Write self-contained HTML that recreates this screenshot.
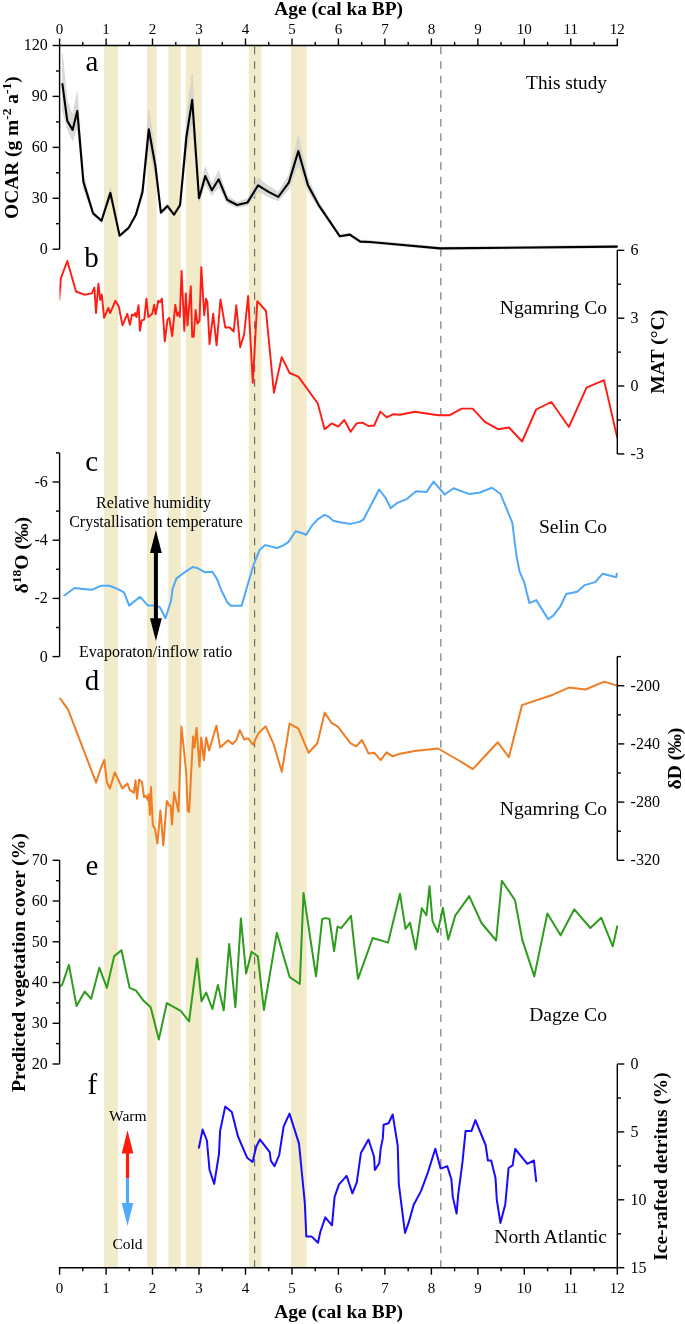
<!DOCTYPE html>
<html><head><meta charset="utf-8"><title>Figure</title>
<style>
html,body{margin:0;padding:0;background:#fff;}
body{width:685px;height:1324px;overflow:hidden;}
svg{display:block;font-family:"Liberation Serif", serif;will-change:transform;}
</style></head>
<body>
<svg width="685" height="1324" viewBox="0 0 685 1324">
<rect x="0" y="0" width="685" height="1324" fill="#fff"/>
<rect x="104.1" y="45.5" width="13.9" height="1222.2" fill="#F1EBCA"/>
<rect x="147" y="45.5" width="9.7" height="1222.2" fill="#F1EBCA"/>
<rect x="168.3" y="45.5" width="12.5" height="1222.2" fill="#F1EBCA"/>
<rect x="185.8" y="45.5" width="15.8" height="1222.2" fill="#F1EBCA"/>
<rect x="248.9" y="45.5" width="12.6" height="1222.2" fill="#F1EBCA"/>
<rect x="290.9" y="45.5" width="15.8" height="1222.2" fill="#F1EBCA"/>
<line x1="254.6" y1="46.8" x2="254.6" y2="1267.7" stroke="#6A6A6A" stroke-width="1.15" stroke-dasharray="7.4 7.045"/>
<line x1="440.8" y1="46.8" x2="440.8" y2="1267.7" stroke="#959595" stroke-width="1.5" stroke-dasharray="7.5 6.945"/>
<polygon points="62.4,53 67.3,101 72.6,115 77.3,92 83.4,173.8 93.1,211.9 101.5,219.3 110.4,187.2 119.6,234.2 128.6,226.4 135.9,213.2 142.5,186 148.8,109.6 155.4,154.5 160.9,211.1 167.5,203.3 174,213.2 180.1,202 186.4,119.3 192.2,73.8 199,193.7 205.3,166.7 211.9,184.1 218.7,170.6 227.1,195.5 237.1,202 247.6,198.8 258.1,178 268.6,186 278.3,192.1 288.8,174.8 298.3,136.2 308,178 318.7,202.1 339.7,234.7 349.8,233.1 360.3,240.1 370,240.5 440.2,246.9 617,245.1 617,247.9 440.2,249.7 370,243.3 360.3,242.9 349.8,235.9 339.7,237.5 318.7,207.7 308,191.6 298.3,163.9 288.8,189.5 278.3,201 268.6,197 258.1,191.6 247.6,205.5 237.1,207.6 227.1,203.3 218.7,186.8 211.9,195.7 205.3,184.2 199,202.1 192.2,122.5 186.4,152.7 180.1,207.6 174,216 167.5,208.5 160.9,213.9 155.4,176.1 148.8,146.3 142.5,197 135.9,216 128.6,229.2 119.6,237 110.4,197.8 101.5,222.1 93.1,214.7 83.4,188.9 77.3,127 72.6,141 67.3,129 62.4,110" fill="#D4D4D0" fill-opacity="0.85" stroke="#BBBBBB" stroke-width="0.7" stroke-dasharray="0.8 1.2"/>
<polyline points="62.4,84.1 67.3,120.9 72.6,129.9 77.3,110.9 83.4,181.9 93.1,213.4 101.5,220.8 110.4,192.9 119.6,235.7 128.6,227.9 135.9,214.7 142.5,191.9 148.8,129.3 155.4,166.1 160.9,212.6 167.5,206.1 174,214.7 180.1,205 186.4,137.2 192.2,99.9 199,198.2 205.3,176.1 211.9,190.3 218.7,179.3 227.1,199.7 237.1,205 247.6,202.4 258.1,185.3 268.6,191.9 278.3,196.9 288.8,182.7 298.3,151.1 308,185.3 318.7,205.1 339.7,236.2 349.8,234.6 360.3,241.6 370,242 440.2,248.4 617,246.6" fill="none" stroke="#000000" stroke-width="2.1" stroke-linejoin="round" stroke-linecap="round"/>
<defs><linearGradient id="fb" gradientUnits="userSpaceOnUse" x1="0" y1="301" x2="0" y2="286"><stop offset="0" stop-color="#FF1C14" stop-opacity="0.25"/><stop offset="1" stop-color="#FF1C14" stop-opacity="1"/></linearGradient></defs>
<line x1="59.7" y1="300.5" x2="60.8" y2="278.4" stroke="url(#fb)" stroke-width="1.9"/>
<polyline points="60.8,278.4 67.3,261 76,291.5 84.4,294.7 91.8,293.4 94.4,287.6 96,313 98.4,283.6 100.2,299.9 101.8,294.7 104.1,317.8 108.3,307.8 110.2,313.1 115.4,300.7 118.8,306.5 122.5,325.4 127.3,313.8 129.9,324.9 132,314.4 133.8,315.7 135.1,313.1 136.4,317 138.6,305.2 139.9,330.9 141.7,320.4 144.3,319.6 146.4,298.6 148.3,317 152.2,313.8 154.3,304.6 155.6,314.4 158.3,300.7 160.1,302 161.9,298.6 164.8,341.4 167.5,319.6 169.3,317.8 172.2,336.2 175.3,304.6 177.2,315.7 178.5,312.5 179.8,317 181.6,271 184.3,330.9 185.8,293.4 187.5,325.5 190.8,286.3 192.2,336.7 193.7,336.7 195.6,309.9 197.4,323.6 199.5,320.9 201.3,267.1 204.2,315.2 206.1,298.6 207.4,302.5 209.5,344.1 213.2,313.8 216.6,345.4 220.5,299.4 225.3,327.5 229.7,327.5 233.7,331.5 236.3,305.2 240.2,347.2 244.2,334.1 248.1,296 252.8,382.7 257.3,301.2 266,311 273.9,392.7 281.7,357.2 289.6,373 298.3,376.6 317.7,403.2 324.6,429.2 331.7,423.4 338.2,426.6 344.3,420 350.6,431.8 356.6,423.4 362.4,422.6 368.4,426 374.2,425.5 380.3,411.6 386.8,417.4 393.4,414.2 400,414.7 414.8,411.7 438.4,415.2 449.8,415.2 461.6,408.6 472.6,408.6 484.9,421.8 498,429.2 509,427.5 522.1,441.5 536.1,409.5 551.4,402 568.9,427 586.5,387.6 604,380.2 617.1,437.1" fill="none" stroke="#FF1C14" stroke-width="1.9" stroke-linejoin="round" stroke-linecap="round"/>
<polyline points="64.4,595.5 74.5,588 83.2,588.9 92,589.8 100.7,585.8 109.5,585.8 117.4,588.9 124,592.4 129.2,605.6 140.1,596.8 148,605.6 156.8,605.6 159.9,607.3 165.5,618.3 171.2,600.3 172.5,589 176.5,578.4 184,572.7 192.7,567 197.1,567.9 205,572.3 212.4,571.7 216.8,578.7 222,591.8 227.3,602.3 230.8,605.8 241.7,605.8 246.6,588.3 253.6,564.7 259.7,549.8 265.3,545.1 277.2,548 283.4,545.4 288.6,541.9 295.6,531.2 301.7,533 306.1,534.7 311.9,525.7 317.7,519.3 324.5,514.9 329.4,517.2 333.2,520.7 341.1,522.5 350.7,523.9 360.1,521.6 363.6,519.3 379.1,489.5 385.8,498.2 390.7,508.2 397.2,502.9 406.2,499.4 409.7,496.5 416.1,491.2 426.4,492.1 433.6,481.6 444.7,494.5 453.5,488.3 468.7,493.9 479.2,492.7 492,487.8 500.4,493.8 506.9,509.4 512.3,522.9 516.5,555.8 519.5,571.3 524.3,582.7 529.4,603.1 536.3,600.1 548.2,619.2 553.3,615.6 560.2,606.7 566.2,594.1 577.3,591.7 584.8,585.1 595.2,582.1 602.7,573.7 616.2,577.3 616.8,573.7" fill="none" stroke="#50A8FA" stroke-width="2.0" stroke-linejoin="round" stroke-linecap="round"/>
<polyline points="60.2,698.5 68.1,709.6 96.1,782.6 101.1,767.4 104.3,759.9 106.9,782.6 109.9,788.5 114.8,772.4 122.4,788.5 127.4,783.5 129.7,789.9 133.8,792.8 135.5,780.3 137,798.7 139.1,779.7 142,782 144,797.2 145.8,795.8 147.8,800.1 148.7,794.3 149.9,814.7 151,787 152.8,825 155.1,829.3 157.4,843.4 160.4,810.4 163.3,845.4 166.8,801 169.1,805.4 170.6,805.4 172,824.4 174.1,792.3 178.5,811.8 181.4,726.6 184.1,751.5 186.2,772.8 187.7,810.7 189.1,812 193.1,736.5 194.5,747.6 196.6,727.7 199.5,766.6 201.2,737.4 203.9,760.1 206.2,737.4 209.1,750.5 216.4,725.7 220.2,747.6 228.1,740.3 232.5,744.1 236.3,740.3 239.8,730.1 244.3,739.6 247.9,738.2 253.1,744.7 258.1,733.6 265.7,726.3 273.6,744.1 281.8,771.8 289.6,723.6 298.4,728.6 308.6,752.8 317.4,743.2 324.7,712.6 331.4,722.8 337.8,726.6 350.4,743.2 356.2,746.4 362,740 368.5,753.4 374.3,752.8 380.7,760.1 386.6,752.3 392.7,756.4 399.1,754 414.6,751.1 438,748.5 459.8,761 472.8,769.1 497.8,742.3 508.9,757.2 522,705.1 552.9,694.7 568.9,687.6 585.6,689.5 604.2,681.6 616.2,685.4" fill="none" stroke="#F07C24" stroke-width="2.0" stroke-linejoin="round" stroke-linecap="round"/>
<polyline points="59.8,986.5 62.2,984.8 68.9,964.9 76.6,1006.1 84.7,991.5 91.2,998.8 99.3,967.7 106.9,987.8 114.2,956.1 121.5,950.2 129.6,987.8 136.1,990.7 143.4,1000.6 150.7,1007.2 158.8,1039.6 166.8,1003.1 180.7,1010.8 189.1,1021.4 197.1,958.6 201.5,1001.3 206.2,992.6 212.4,1009 217.9,984.9 223.7,1010.4 229.2,944 235.4,1007.2 240.9,918.5 246.1,973.5 251.6,951.8 257.8,956.4 263.9,1010 276.8,932.8 289.7,977.2 299.8,984 303.5,892.9 316,976.3 322.2,919 325.8,918.1 329.5,919 334.1,951.2 337.5,926.6 341.2,928.2 351,915.9 358,978.8 372.7,938 388.1,942.6 400,893.8 405.5,928.8 410.1,922.7 415.7,949.6 421.8,908.2 426.4,915.3 429.5,886.2 432.5,921.1 437.7,932.2 442.9,907.8 448.2,939.6 455.2,915.7 469.2,896.1 481.5,923 496.1,940.5 501.9,880.7 515,900.2 522.3,939.9 534.3,976.4 547.4,913.4 560.6,935.3 574.3,909.3 590.4,928 601.2,917.7 612.8,946.4 617.2,926.5" fill="none" stroke="#2E9C1C" stroke-width="2.0" stroke-linejoin="round" stroke-linecap="round"/>
<polyline points="198.9,1147.8 202.6,1129.6 206.9,1140.5 209.5,1169.7 214.2,1183.9 219,1154 220.1,1131 225.2,1106.6 231.8,1112 238,1136.5 247.1,1157.7 252.6,1162 256.2,1146.7 259.9,1139.4 269.7,1152.2 270.8,1160.6 274.5,1166.1 279.2,1155.1 283.6,1126.6 289.5,1113.6 299,1143.6 304.8,1202.8 306.3,1236.4 311.5,1236.4 318,1242.8 320.3,1232 325.3,1217.4 332,1225.3 334.6,1196.9 339,1184.4 346.6,1175.9 352.4,1193.4 356.8,1182.3 360.9,1153.1 368.5,1139.5 374,1156.5 374.9,1169.9 379.3,1163.2 380.7,1148.6 382.8,1138.4 383.6,1124.7 388.6,1123.2 392.7,1114.5 397.7,1145.7 398.8,1183.8 405,1232.8 408.5,1223.2 413.7,1204.8 421,1191.1 428,1172.1 435.3,1148.8 440.6,1168.6 447.3,1166.3 451.4,1179.4 452.8,1196.9 456.6,1213.6 458.1,1195.5 462.5,1161.9 465.6,1130.9 471.5,1130.9 475.4,1120.1 485.6,1145 487.9,1160.5 491.2,1160.5 495.5,1177.9 496.8,1199.9 500.4,1222.9 505.3,1204.2 508.6,1168 512.6,1165.4 515.2,1149 527.3,1163.8 533.9,1160.5 536.2,1181.2" fill="none" stroke="#1A0AFF" stroke-width="2.0" stroke-linejoin="round" stroke-linecap="round"/>
<line x1="58.9" y1="45.5" x2="618" y2="45.5" stroke="#000" stroke-width="1.4" fill="none"/>
<line x1="58.9" y1="1267.7" x2="618" y2="1267.7" stroke="#000" stroke-width="1.4" fill="none"/>
<line x1="59.6" y1="45.5" x2="59.6" y2="38.5" stroke="#000" stroke-width="1.4" fill="none"/>
<line x1="59.6" y1="1267.7" x2="59.6" y2="1274.7" stroke="#000" stroke-width="1.4" fill="none"/>
<line x1="82.8" y1="45.5" x2="82.8" y2="41.9" stroke="#000" stroke-width="1.4" fill="none"/>
<line x1="82.8" y1="1267.7" x2="82.8" y2="1271.3" stroke="#000" stroke-width="1.4" fill="none"/>
<line x1="106.1" y1="45.5" x2="106.1" y2="38.5" stroke="#000" stroke-width="1.4" fill="none"/>
<line x1="106.1" y1="1267.7" x2="106.1" y2="1274.7" stroke="#000" stroke-width="1.4" fill="none"/>
<line x1="129.3" y1="45.5" x2="129.3" y2="41.9" stroke="#000" stroke-width="1.4" fill="none"/>
<line x1="129.3" y1="1267.7" x2="129.3" y2="1271.3" stroke="#000" stroke-width="1.4" fill="none"/>
<line x1="152.5" y1="45.5" x2="152.5" y2="38.5" stroke="#000" stroke-width="1.4" fill="none"/>
<line x1="152.5" y1="1267.7" x2="152.5" y2="1274.7" stroke="#000" stroke-width="1.4" fill="none"/>
<line x1="175.8" y1="45.5" x2="175.8" y2="41.9" stroke="#000" stroke-width="1.4" fill="none"/>
<line x1="175.8" y1="1267.7" x2="175.8" y2="1271.3" stroke="#000" stroke-width="1.4" fill="none"/>
<line x1="199" y1="45.5" x2="199" y2="38.5" stroke="#000" stroke-width="1.4" fill="none"/>
<line x1="199" y1="1267.7" x2="199" y2="1274.7" stroke="#000" stroke-width="1.4" fill="none"/>
<line x1="222.3" y1="45.5" x2="222.3" y2="41.9" stroke="#000" stroke-width="1.4" fill="none"/>
<line x1="222.3" y1="1267.7" x2="222.3" y2="1271.3" stroke="#000" stroke-width="1.4" fill="none"/>
<line x1="245.5" y1="45.5" x2="245.5" y2="38.5" stroke="#000" stroke-width="1.4" fill="none"/>
<line x1="245.5" y1="1267.7" x2="245.5" y2="1274.7" stroke="#000" stroke-width="1.4" fill="none"/>
<line x1="268.7" y1="45.5" x2="268.7" y2="41.9" stroke="#000" stroke-width="1.4" fill="none"/>
<line x1="268.7" y1="1267.7" x2="268.7" y2="1271.3" stroke="#000" stroke-width="1.4" fill="none"/>
<line x1="292" y1="45.5" x2="292" y2="38.5" stroke="#000" stroke-width="1.4" fill="none"/>
<line x1="292" y1="1267.7" x2="292" y2="1274.7" stroke="#000" stroke-width="1.4" fill="none"/>
<line x1="315.2" y1="45.5" x2="315.2" y2="41.9" stroke="#000" stroke-width="1.4" fill="none"/>
<line x1="315.2" y1="1267.7" x2="315.2" y2="1271.3" stroke="#000" stroke-width="1.4" fill="none"/>
<line x1="338.4" y1="45.5" x2="338.4" y2="38.5" stroke="#000" stroke-width="1.4" fill="none"/>
<line x1="338.4" y1="1267.7" x2="338.4" y2="1274.7" stroke="#000" stroke-width="1.4" fill="none"/>
<line x1="361.7" y1="45.5" x2="361.7" y2="41.9" stroke="#000" stroke-width="1.4" fill="none"/>
<line x1="361.7" y1="1267.7" x2="361.7" y2="1271.3" stroke="#000" stroke-width="1.4" fill="none"/>
<line x1="384.9" y1="45.5" x2="384.9" y2="38.5" stroke="#000" stroke-width="1.4" fill="none"/>
<line x1="384.9" y1="1267.7" x2="384.9" y2="1274.7" stroke="#000" stroke-width="1.4" fill="none"/>
<line x1="408.2" y1="45.5" x2="408.2" y2="41.9" stroke="#000" stroke-width="1.4" fill="none"/>
<line x1="408.2" y1="1267.7" x2="408.2" y2="1271.3" stroke="#000" stroke-width="1.4" fill="none"/>
<line x1="431.4" y1="45.5" x2="431.4" y2="38.5" stroke="#000" stroke-width="1.4" fill="none"/>
<line x1="431.4" y1="1267.7" x2="431.4" y2="1274.7" stroke="#000" stroke-width="1.4" fill="none"/>
<line x1="454.6" y1="45.5" x2="454.6" y2="41.9" stroke="#000" stroke-width="1.4" fill="none"/>
<line x1="454.6" y1="1267.7" x2="454.6" y2="1271.3" stroke="#000" stroke-width="1.4" fill="none"/>
<line x1="477.9" y1="45.5" x2="477.9" y2="38.5" stroke="#000" stroke-width="1.4" fill="none"/>
<line x1="477.9" y1="1267.7" x2="477.9" y2="1274.7" stroke="#000" stroke-width="1.4" fill="none"/>
<line x1="501.1" y1="45.5" x2="501.1" y2="41.9" stroke="#000" stroke-width="1.4" fill="none"/>
<line x1="501.1" y1="1267.7" x2="501.1" y2="1271.3" stroke="#000" stroke-width="1.4" fill="none"/>
<line x1="524.3" y1="45.5" x2="524.3" y2="38.5" stroke="#000" stroke-width="1.4" fill="none"/>
<line x1="524.3" y1="1267.7" x2="524.3" y2="1274.7" stroke="#000" stroke-width="1.4" fill="none"/>
<line x1="547.6" y1="45.5" x2="547.6" y2="41.9" stroke="#000" stroke-width="1.4" fill="none"/>
<line x1="547.6" y1="1267.7" x2="547.6" y2="1271.3" stroke="#000" stroke-width="1.4" fill="none"/>
<line x1="570.8" y1="45.5" x2="570.8" y2="38.5" stroke="#000" stroke-width="1.4" fill="none"/>
<line x1="570.8" y1="1267.7" x2="570.8" y2="1274.7" stroke="#000" stroke-width="1.4" fill="none"/>
<line x1="594.1" y1="45.5" x2="594.1" y2="41.9" stroke="#000" stroke-width="1.4" fill="none"/>
<line x1="594.1" y1="1267.7" x2="594.1" y2="1271.3" stroke="#000" stroke-width="1.4" fill="none"/>
<line x1="617.3" y1="45.5" x2="617.3" y2="38.5" stroke="#000" stroke-width="1.4" fill="none"/>
<line x1="617.3" y1="1267.7" x2="617.3" y2="1274.7" stroke="#000" stroke-width="1.4" fill="none"/>
<text x="59.6" y="33.7" font-size="15" text-anchor="middle">0</text>
<text x="59.6" y="1292.7" font-size="15" text-anchor="middle">0</text>
<text x="106.1" y="33.7" font-size="15" text-anchor="middle">1</text>
<text x="106.1" y="1292.7" font-size="15" text-anchor="middle">1</text>
<text x="152.5" y="33.7" font-size="15" text-anchor="middle">2</text>
<text x="152.5" y="1292.7" font-size="15" text-anchor="middle">2</text>
<text x="199" y="33.7" font-size="15" text-anchor="middle">3</text>
<text x="199" y="1292.7" font-size="15" text-anchor="middle">3</text>
<text x="245.5" y="33.7" font-size="15" text-anchor="middle">4</text>
<text x="245.5" y="1292.7" font-size="15" text-anchor="middle">4</text>
<text x="292" y="33.7" font-size="15" text-anchor="middle">5</text>
<text x="292" y="1292.7" font-size="15" text-anchor="middle">5</text>
<text x="338.4" y="33.7" font-size="15" text-anchor="middle">6</text>
<text x="338.4" y="1292.7" font-size="15" text-anchor="middle">6</text>
<text x="384.9" y="33.7" font-size="15" text-anchor="middle">7</text>
<text x="384.9" y="1292.7" font-size="15" text-anchor="middle">7</text>
<text x="431.4" y="33.7" font-size="15" text-anchor="middle">8</text>
<text x="431.4" y="1292.7" font-size="15" text-anchor="middle">8</text>
<text x="477.9" y="33.7" font-size="15" text-anchor="middle">9</text>
<text x="477.9" y="1292.7" font-size="15" text-anchor="middle">9</text>
<text x="524.3" y="33.7" font-size="15" text-anchor="middle">10</text>
<text x="524.3" y="1292.7" font-size="15" text-anchor="middle">10</text>
<text x="570.8" y="33.7" font-size="15" text-anchor="middle">11</text>
<text x="570.8" y="1292.7" font-size="15" text-anchor="middle">11</text>
<text x="617.3" y="33.7" font-size="15" text-anchor="middle">12</text>
<text x="617.3" y="1292.7" font-size="15" text-anchor="middle">12</text>
<text x="338.6" y="14.5" font-size="19.4" font-weight="bold" text-anchor="middle">Age (cal ka BP)</text>
<text x="338.6" y="1318.3" font-size="19.4" font-weight="bold" text-anchor="middle">Age (cal ka BP)</text>
<line x1="59.6" y1="45.5" x2="59.6" y2="249.2" stroke="#000" stroke-width="1.4" fill="none"/>
<line x1="59.6" y1="249.2" x2="52.6" y2="249.2" stroke="#000" stroke-width="1.4" fill="none"/>
<line x1="59.6" y1="223.7" x2="56" y2="223.7" stroke="#000" stroke-width="1.4" fill="none"/>
<line x1="59.6" y1="198.3" x2="52.6" y2="198.3" stroke="#000" stroke-width="1.4" fill="none"/>
<line x1="59.6" y1="172.8" x2="56" y2="172.8" stroke="#000" stroke-width="1.4" fill="none"/>
<line x1="59.6" y1="147.4" x2="52.6" y2="147.4" stroke="#000" stroke-width="1.4" fill="none"/>
<line x1="59.6" y1="121.9" x2="56" y2="121.9" stroke="#000" stroke-width="1.4" fill="none"/>
<line x1="59.6" y1="96.4" x2="52.6" y2="96.4" stroke="#000" stroke-width="1.4" fill="none"/>
<line x1="59.6" y1="71" x2="56" y2="71" stroke="#000" stroke-width="1.4" fill="none"/>
<line x1="59.6" y1="45.5" x2="52.6" y2="45.5" stroke="#000" stroke-width="1.4" fill="none"/>
<text x="47.8" y="254.1" font-size="16" text-anchor="end">0</text>
<text x="47.8" y="203.2" font-size="16" text-anchor="end">30</text>
<text x="47.8" y="152.3" font-size="16" text-anchor="end">60</text>
<text x="47.8" y="101.3" font-size="16" text-anchor="end">90</text>
<text x="47.8" y="50.4" font-size="16" text-anchor="end">120</text>
<line x1="617.3" y1="250.3" x2="617.3" y2="453.9" stroke="#000" stroke-width="1.4" fill="none"/>
<line x1="617.3" y1="453.9" x2="624.3" y2="453.9" stroke="#000" stroke-width="1.4" fill="none"/>
<line x1="617.3" y1="420" x2="620.9" y2="420" stroke="#000" stroke-width="1.4" fill="none"/>
<line x1="617.3" y1="386" x2="624.3" y2="386" stroke="#000" stroke-width="1.4" fill="none"/>
<line x1="617.3" y1="352.1" x2="620.9" y2="352.1" stroke="#000" stroke-width="1.4" fill="none"/>
<line x1="617.3" y1="318.2" x2="624.3" y2="318.2" stroke="#000" stroke-width="1.4" fill="none"/>
<line x1="617.3" y1="284.2" x2="620.9" y2="284.2" stroke="#000" stroke-width="1.4" fill="none"/>
<line x1="617.3" y1="250.3" x2="624.3" y2="250.3" stroke="#000" stroke-width="1.4" fill="none"/>
<text x="630.6" y="255.2" font-size="16">6</text>
<text x="630.6" y="323.1" font-size="16">3</text>
<text x="630.6" y="390.9" font-size="16">0</text>
<text x="630.6" y="458.8" font-size="16">-3</text>
<line x1="59.6" y1="452.9" x2="59.6" y2="656.6" stroke="#000" stroke-width="1.4" fill="none"/>
<line x1="59.6" y1="452.9" x2="56" y2="452.9" stroke="#000" stroke-width="1.4" fill="none"/>
<line x1="59.6" y1="482" x2="52.6" y2="482" stroke="#000" stroke-width="1.4" fill="none"/>
<line x1="59.6" y1="511.1" x2="56" y2="511.1" stroke="#000" stroke-width="1.4" fill="none"/>
<line x1="59.6" y1="540.2" x2="52.6" y2="540.2" stroke="#000" stroke-width="1.4" fill="none"/>
<line x1="59.6" y1="569.3" x2="56" y2="569.3" stroke="#000" stroke-width="1.4" fill="none"/>
<line x1="59.6" y1="598.4" x2="52.6" y2="598.4" stroke="#000" stroke-width="1.4" fill="none"/>
<line x1="59.6" y1="627.5" x2="56" y2="627.5" stroke="#000" stroke-width="1.4" fill="none"/>
<line x1="59.6" y1="656.6" x2="52.6" y2="656.6" stroke="#000" stroke-width="1.4" fill="none"/>
<text x="47.8" y="486.9" font-size="16" text-anchor="end">-6</text>
<text x="47.8" y="545.1" font-size="16" text-anchor="end">-4</text>
<text x="47.8" y="603.3" font-size="16" text-anchor="end">-2</text>
<text x="47.8" y="661.5" font-size="16" text-anchor="end">0</text>
<line x1="617.3" y1="656.6" x2="617.3" y2="860.3" stroke="#000" stroke-width="1.4" fill="none"/>
<line x1="617.3" y1="860.3" x2="624.3" y2="860.3" stroke="#000" stroke-width="1.4" fill="none"/>
<line x1="617.3" y1="831.2" x2="620.9" y2="831.2" stroke="#000" stroke-width="1.4" fill="none"/>
<line x1="617.3" y1="802.1" x2="624.3" y2="802.1" stroke="#000" stroke-width="1.4" fill="none"/>
<line x1="617.3" y1="773" x2="620.9" y2="773" stroke="#000" stroke-width="1.4" fill="none"/>
<line x1="617.3" y1="743.9" x2="624.3" y2="743.9" stroke="#000" stroke-width="1.4" fill="none"/>
<line x1="617.3" y1="714.8" x2="620.9" y2="714.8" stroke="#000" stroke-width="1.4" fill="none"/>
<line x1="617.3" y1="685.7" x2="624.3" y2="685.7" stroke="#000" stroke-width="1.4" fill="none"/>
<line x1="617.3" y1="656.6" x2="620.9" y2="656.6" stroke="#000" stroke-width="1.4" fill="none"/>
<text x="630.6" y="690.6" font-size="16">-200</text>
<text x="630.6" y="748.8" font-size="16">-240</text>
<text x="630.6" y="807" font-size="16">-280</text>
<text x="630.6" y="865.2" font-size="16">-320</text>
<line x1="59.6" y1="860.3" x2="59.6" y2="1064" stroke="#000" stroke-width="1.4" fill="none"/>
<line x1="59.6" y1="1064" x2="52.6" y2="1064" stroke="#000" stroke-width="1.4" fill="none"/>
<line x1="59.6" y1="1043.6" x2="56" y2="1043.6" stroke="#000" stroke-width="1.4" fill="none"/>
<line x1="59.6" y1="1023.3" x2="52.6" y2="1023.3" stroke="#000" stroke-width="1.4" fill="none"/>
<line x1="59.6" y1="1002.9" x2="56" y2="1002.9" stroke="#000" stroke-width="1.4" fill="none"/>
<line x1="59.6" y1="982.5" x2="52.6" y2="982.5" stroke="#000" stroke-width="1.4" fill="none"/>
<line x1="59.6" y1="962.2" x2="56" y2="962.2" stroke="#000" stroke-width="1.4" fill="none"/>
<line x1="59.6" y1="941.8" x2="52.6" y2="941.8" stroke="#000" stroke-width="1.4" fill="none"/>
<line x1="59.6" y1="921.4" x2="56" y2="921.4" stroke="#000" stroke-width="1.4" fill="none"/>
<line x1="59.6" y1="901" x2="52.6" y2="901" stroke="#000" stroke-width="1.4" fill="none"/>
<line x1="59.6" y1="880.7" x2="56" y2="880.7" stroke="#000" stroke-width="1.4" fill="none"/>
<line x1="59.6" y1="860.3" x2="52.6" y2="860.3" stroke="#000" stroke-width="1.4" fill="none"/>
<text x="47.8" y="1068.9" font-size="16" text-anchor="end">20</text>
<text x="47.8" y="1028.2" font-size="16" text-anchor="end">30</text>
<text x="47.8" y="987.4" font-size="16" text-anchor="end">40</text>
<text x="47.8" y="946.7" font-size="16" text-anchor="end">50</text>
<text x="47.8" y="905.9" font-size="16" text-anchor="end">60</text>
<text x="47.8" y="865.2" font-size="16" text-anchor="end">70</text>
<line x1="617.3" y1="1064" x2="617.3" y2="1267.7" stroke="#000" stroke-width="1.4" fill="none"/>
<line x1="617.3" y1="1064" x2="624.3" y2="1064" stroke="#000" stroke-width="1.4" fill="none"/>
<line x1="617.3" y1="1098" x2="620.9" y2="1098" stroke="#000" stroke-width="1.4" fill="none"/>
<line x1="617.3" y1="1131.9" x2="624.3" y2="1131.9" stroke="#000" stroke-width="1.4" fill="none"/>
<line x1="617.3" y1="1165.9" x2="620.9" y2="1165.9" stroke="#000" stroke-width="1.4" fill="none"/>
<line x1="617.3" y1="1199.8" x2="624.3" y2="1199.8" stroke="#000" stroke-width="1.4" fill="none"/>
<line x1="617.3" y1="1233.8" x2="620.9" y2="1233.8" stroke="#000" stroke-width="1.4" fill="none"/>
<line x1="617.3" y1="1267.7" x2="624.3" y2="1267.7" stroke="#000" stroke-width="1.4" fill="none"/>
<text x="630.6" y="1068.9" font-size="16">0</text>
<text x="630.6" y="1136.8" font-size="16">5</text>
<text x="630.6" y="1204.7" font-size="16">10</text>
<text x="630.6" y="1272.6" font-size="16">15</text>
<text x="18.1" y="147.6" font-size="19.4" font-weight="bold" text-anchor="middle" transform="rotate(-90 18.1 147.6)">OCAR (g m<tspan dy="-7.2" font-size="13.5">-2</tspan><tspan dy="7.2"> a</tspan><tspan dy="-7.2" font-size="13.5">-1</tspan><tspan dy="7.2">)</tspan></text>
<text x="28" y="555.2" font-size="19.6" font-weight="bold" text-anchor="middle" transform="rotate(-90 28 555.2)">&#948;<tspan dy="-7.4" font-size="13.5">18</tspan><tspan dy="7.4">O (&#8240;)</tspan></text>
<text x="25.4" y="962.6" font-size="19.6" font-weight="bold" text-anchor="middle" transform="rotate(-90 25.4 962.6)">Predicted vegetation cover (%)</text>
<text x="663.7" y="351.7" font-size="19.6" font-weight="bold" text-anchor="middle" transform="rotate(-90 663.7 351.7)">MAT (&#176;C)</text>
<text x="680.6" y="758.6" font-size="19.6" font-weight="bold" text-anchor="middle" transform="rotate(-90 680.6 758.6)">&#948;D (&#8240;)</text>
<text x="666.8" y="1166.5" font-size="19.4" font-weight="bold" text-anchor="middle" transform="rotate(-90 666.8 1166.5)">Ice-rafted detritus (%)</text>
<text x="85.5" y="70.5" font-size="29">a</text>
<text x="84.3" y="267.4" font-size="29">b</text>
<text x="85.2" y="470.7" font-size="29">c</text>
<text x="84.8" y="689.8" font-size="29">d</text>
<text x="85.5" y="875.3" font-size="29">e</text>
<text x="87.5" y="1094.4" font-size="29">f</text>
<text x="607" y="89" font-size="19.3" text-anchor="end">This study</text>
<text x="607" y="314.3" font-size="19.6" text-anchor="end">Ngamring Co</text>
<text x="607" y="532.7" font-size="19.6" text-anchor="end">Selin Co</text>
<text x="607" y="815" font-size="19.6" text-anchor="end">Ngamring Co</text>
<text x="607" y="1020.8" font-size="19.6" text-anchor="end">Dagze Co</text>
<text x="607" y="1242.8" font-size="19.6" text-anchor="end">North Atlantic</text>
<text x="153.5" y="507.8" font-size="16" text-anchor="middle">Relative humidity</text>
<text x="156" y="527.2" font-size="16" text-anchor="middle">Crystallisation temperature</text>
<text x="155.7" y="657.4" font-size="16" text-anchor="middle">Evaporaton/inflow ratio</text>
<rect x="153.9" y="552" width="4" height="67" fill="#000"/>
<polygon points="155.9,530.1 150,552.9 161.8,552.9" fill="#000"/>
<polygon points="155.9,641 150,618.2 161.8,618.2" fill="#000"/>
<rect x="125.9" y="1152" width="3.2" height="26" fill="#FF1A0A"/>
<polygon points="127.5,1130.2 121.7,1153.4 133.3,1153.4" fill="#FF1A0A"/>
<rect x="125.9" y="1177.9" width="3.2" height="26" fill="#52AAFF"/>
<polygon points="127.5,1226 121.7,1203.1 133.3,1203.1" fill="#52AAFF"/>
<text x="127.8" y="1121.3" font-size="15.5" text-anchor="middle">Warm</text>
<text x="127.5" y="1249" font-size="15.5" text-anchor="middle">Cold</text>
</svg>
</body></html>
